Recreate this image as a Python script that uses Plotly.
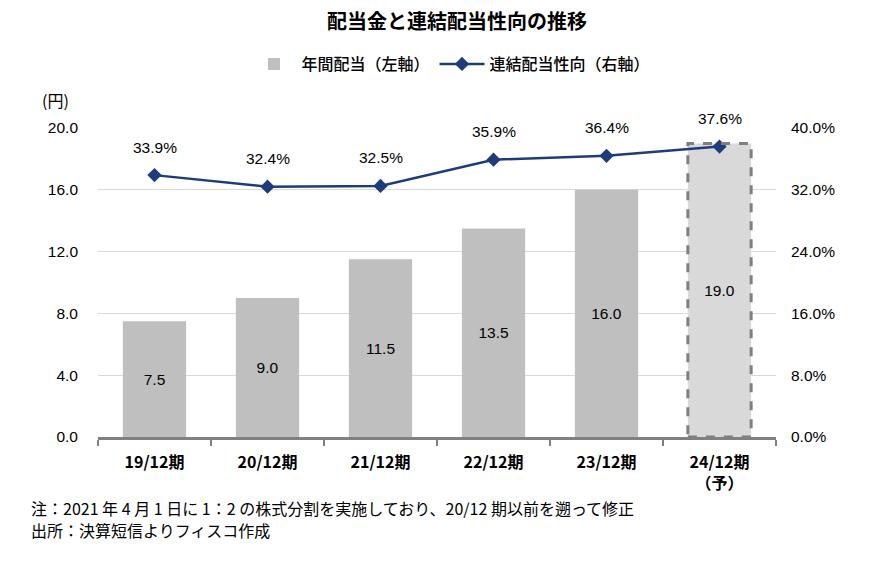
import plotly.graph_objects as go

categories = ["19/12期", "20/12期", "21/12期", "22/12期", "23/12期", "24/12期<br>（予）"]
dividends = [7.5, 9.0, 11.5, 13.5, 16.0, 19.0]
payout = [33.9, 32.4, 32.5, 35.9, 36.4, 37.6]
forecast = [False, False, False, False, False, True]
left_ticks = [0, 4, 8, 12, 16, 20]
right_ticks = [0, 8, 16, 24, 32, 40]

FONT = "Liberation Sans, Noto Sans CJK JP"
JP = "Noto Sans CJK JP"
bar_colors = ["#d9d9d9" if f else "#bfbfbf" for f in forecast]
BW = 0.56
NUM = 15.5

# the page body adds an 8px offset; margins compensate for it
ML, MR, MT, MB = 90, 112, 120, 133
W, H = 880, 562
PW = W - ML - MR
PH = H - MT - MB


def px(xs):
    return (xs - 8 - ML) / PW


def py(ys):
    return (H - MB - (ys - 8)) / PH


fig = go.Figure()
fig.add_trace(go.Bar(
    x=categories, y=dividends, name="年間配当（左軸）",
    marker=dict(color=bar_colors, line=dict(width=0)),
    width=BW,
    text=[f"{v:.1f}" for v in dividends], textposition="inside",
    insidetextanchor="middle", textfont=dict(size=NUM, color="#000000", family=FONT),
    yaxis="y",
))
fig.add_trace(go.Scatter(
    x=categories, y=payout, name="連結配当性向（右軸）", mode="lines+markers",
    line=dict(color="#1f3c7a", width=2.5),
    marker=dict(symbol="diamond", size=11, color="#1f3c7a"),
    yaxis="y2",
))

for i, (c, v) in enumerate(zip(categories, payout)):
    fig.add_annotation(x=c, y=v, yref="y2", text=f"{v:.1f}%", showarrow=False,
                       yshift=28, font=dict(size=NUM, color="#000000", family=FONT))

for i, (f, v) in enumerate(zip(forecast, dividends)):
    if f:
        fig.add_shape(type="rect", xref="x", yref="y", x0=i - BW / 2, x1=i + BW / 2,
                      y0=0, y1=v, line=dict(color="#7f7f7f", width=3, dash="dash"),
                      fillcolor="rgba(0,0,0,0)", layer="above")

fig.update_layout(
    width=W, height=H,
    margin=dict(l=ML, r=MR, t=MT, b=MB, autoexpand=False),
    paper_bgcolor="white", plot_bgcolor="white",
    title=dict(text="<b>配当金と連結配当性向の推移</b>", x=449 / W, xanchor="center",
               y=1 - 14 / H, yanchor="middle", yref="container",
               font=dict(size=20, family=JP, color="#000000")),
    legend=dict(orientation="h", x=443 / W, xanchor="center", xref="container",
                y=1 - 56 / H, yanchor="middle", yref="container",
                font=dict(size=16, family=JP, color="#000000", weight=500),
                traceorder="normal", itemwidth=45),
    font=dict(family=FONT, color="#000000"),
    bargap=0.44,
    xaxis=dict(showline=True, linecolor="#808080", linewidth=3, ticks="outside",
               tickson="boundaries", ticklen=6, tickwidth=2, tickcolor="#808080",
               tickfont=dict(size=16, family=JP, color="#000000", weight="bold"),
               ticklabelstandoff=9, showgrid=False, automargin=False),
    yaxis=dict(range=[0, 20], tickvals=left_ticks,
               ticktext=[f"{v:.1f}" for v in left_ticks],
               showgrid=True, gridcolor="#d9d9d9", gridwidth=1, zeroline=False,
               tickfont=dict(size=NUM, family=FONT, color="#000000"),
               ticklabelstandoff=19, showline=False, automargin=False),
    yaxis2=dict(range=[0, 40], tickvals=right_ticks,
                ticktext=[f"{v:.1f}%" for v in right_ticks],
                overlaying="y", side="right", showgrid=False,
                zeroline=False, tickfont=dict(size=NUM, family=FONT, color="#000000"),
                ticklabelstandoff=14, automargin=False),
    annotations=list(fig.layout.annotations) + [
        dict(text="(円)", xref="paper", yref="paper", x=px(40), y=py(100), xanchor="left",
             yanchor="middle", showarrow=False, font=dict(size=16, family=JP, color="#000000")),
        dict(text="注：2021 年 4 月 1 日に 1：2 の株式分割を実施しており、20/12 期以前を遡って修正",
             xref="paper", yref="paper", x=px(29), y=py(508), xanchor="left", yanchor="middle",
             showarrow=False, font=dict(size=16, family=JP, color="#000000")),
        dict(text="出所：決算短信よりフィスコ作成",
             xref="paper", yref="paper", x=px(29), y=py(530), xanchor="left", yanchor="middle",
             showarrow=False, font=dict(size=16, family=JP, color="#000000")),
    ],
)

fig.write_html("out.html")
